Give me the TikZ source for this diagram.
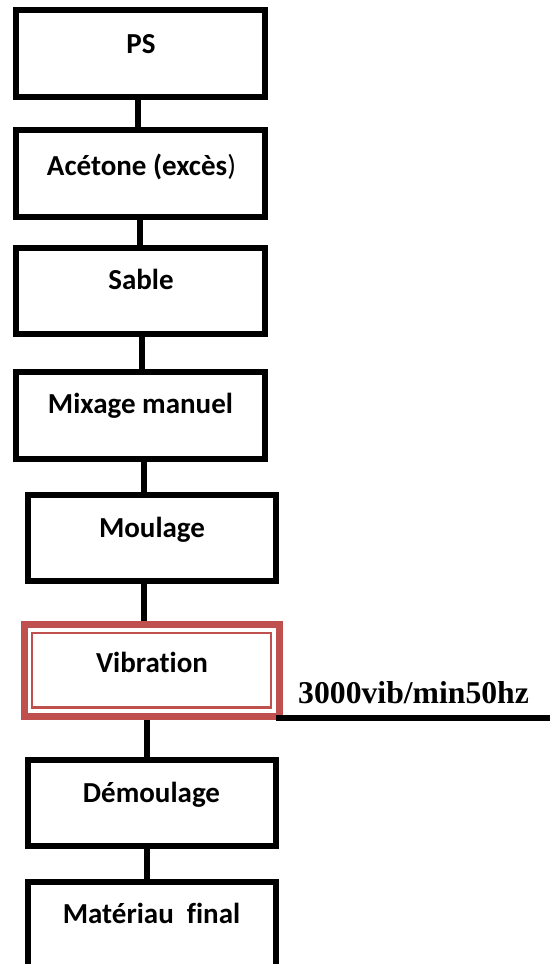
\documentclass[tikz,border=0pt]{standalone}
\usepackage{fontspec}
\setmainfont[Ligatures=NoCommon]{Carlito}
\newfontfamily\tnrfont{Liberation Serif}
\definecolor{boxred}{RGB}{192,80,77}
\begin{document}
\begin{tikzpicture}[x=1pt,y=-1pt,
  box/.style={draw=black,line width=6pt,rectangle,inner sep=0pt,minimum width=249pt,minimum height=87pt},
  redbox/.style={draw=boxred,line width=7pt,rectangle,inner sep=0pt},
  redin/.style={draw=boxred,line width=2.5pt,rectangle,inner sep=0pt},
  lbl/.style={anchor=base,inner sep=0pt,font=\fontsize{29pt}{29pt}\selectfont\bfseries},
  conn/.style={draw=black,line width=6pt}]
\path[use as bounding box] (0,0) rectangle (550,964);
\clip (0,0) rectangle (550,964);
\fill[white] (0,0) rectangle (550,964);
% boxes
\node[box] (b1) at (140.5,53.5) {};
\node[box] (b2) at (140.5,173.5) {};
\node[box,minimum height=86pt] (b3) at (140.5,291) {};
\node[box] (b4) at (140.5,415.5) {};
\node[box,minimum width=248pt,minimum height=86pt] (b5) at (152,538) {};
\node[redbox,minimum width=255pt,minimum height=92pt] (b6) at (152,670.5) {};
\node[redin,minimum width=239pt,minimum height=74.5pt] (b6in) at (151.5,670) {};
\node[box,minimum width=248pt,minimum height=86pt] (b7) at (152,803) {};
\node[box,minimum width=248pt,minimum height=86pt] (b8) at (152,925) {};
% texts
\node[lbl] (t1) at (141,53) {PS};
\node[lbl] (t2) at (141.5,175) {Acétone (excès{\mdseries)}};
\node[lbl] (t3) at (141,289) {Sable};
\node[lbl] (t4) at (140.5,413) {Mixage manuel};
\node[lbl] (t5) at (152,537) {Moulage};
\node[lbl] (t6) at (152,672) {Vibration};
\node[lbl] (t7) at (151.5,802) {Démoulage};
\node[lbl] (t8) at (151.5,923) {Matériau~~final};
% connectors
\draw[conn] ([xshift=-2.5pt]b1.south) -- ([xshift=-2.5pt]b1.south |- b2.north);
\draw[conn] ([xshift=-0.5pt]b2.south) -- ([xshift=-0.5pt]b2.south |- b3.north);
\draw[conn] ([xshift=1.5pt]b3.south) -- ([xshift=1.5pt]b3.south |- b4.north);
\draw[conn] ([xshift=3.5pt]b4.south) -- ([xshift=3.5pt]b4.south |- b5.north);
\draw[conn] ([xshift=-8pt]b5.south) -- ([xshift=-8pt]b5.south |- b6.north);
\draw[conn] ([xshift=-5pt]b6.south) -- ([xshift=-5pt]b6.south |- b7.north);
\draw[conn] ([xshift=-5pt]b7.south) -- ([xshift=-5pt]b7.south |- b8.north);
% side line and label
\coordinate (hend) at (550,717.5);
\draw[conn] ([xshift=-7pt,yshift=2.5pt]b6.south east) -- (hend);
\node[anchor=base west,inner sep=0pt,font=\tnrfont\bfseries\fontsize{31.7pt}{31.7pt}\selectfont] (lab) at (298,703) {3000vib/min50hz};
\end{tikzpicture}
\end{document}
